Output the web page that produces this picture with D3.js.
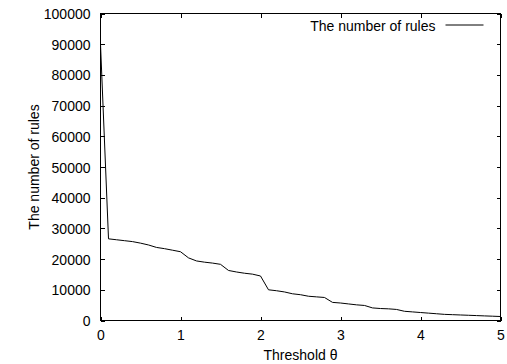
<!DOCTYPE html>
<meta charset="utf-8">
<style>
	body {
		margin: 0;
		background: #fff;
	}
	svg {
		font: 14px "Liberation Sans", Arial, sans-serif;
	}
	.axis path,
	.axis line {
		fill: none;
		stroke: #000;
		shape-rendering: crispEdges;
	}
	.axis .domain {
		display: none;
	}
	.rules {
		fill: none;
		stroke: #000;
		stroke-width: 1;
	}
</style>
<body>
<script src="https://d3js.org/d3.v7.min.js"></script>
<script>
	// threshold theta, 0 .. 5 in steps of 0.1
	var thresholds = [0, 0.1, 0.2, 0.3, 0.4, 0.5, 0.6, 0.7, 0.8, 0.9,
		1.0, 1.1, 1.2, 1.3, 1.4, 1.5, 1.6, 1.7, 1.8, 1.9,
		2.0, 2.1, 2.2, 2.3, 2.4, 2.5, 2.6, 2.7, 2.8, 2.9,
		3.0, 3.1, 3.2, 3.3, 3.4, 3.5, 3.6, 3.7, 3.8, 3.9,
		4.0, 4.1, 4.2, 4.3, 4.4, 4.5, 4.6, 4.7, 4.8, 4.9, 5.0];

	var numRules = [90000, 26600, 26300, 26000, 25700, 25200, 24600, 23800, 23400, 22900,
		22400, 20400, 19400, 19000, 18700, 18300, 16300, 15800, 15400, 15100,
		14500, 10000, 9700, 9300, 8700, 8400, 7900, 7700, 7500, 5900,
		5700, 5400, 5100, 4900, 4100, 3900, 3800, 3600, 3000, 2800,
		2600, 2400, 2200, 2000, 1900, 1800, 1700, 1600, 1500, 1400, 1300];

	var xTicks = [0, 1, 2, 3, 4, 5];
	var yTicks = [0, 10000, 20000, 30000, 40000, 50000, 60000, 70000, 80000, 90000, 100000];

	var seriesName = "The number of rules";

	var margin = {top: 13.5, right: 6.5, bottom: 43.5, left: 100.5},
		width = 507 - margin.left - margin.right,
		height = 364 - margin.top - margin.bottom;

	var x = d3.scaleLinear().domain([0, 5]).range([0, width]);
	var y = d3.scaleLinear().domain([0, 100000]).range([height, 0]);

	var svg = d3.select("body").append("svg")
		.attr("width", 507)
		.attr("height", 364)
		.append("g")
		.attr("transform", "translate(" + margin.left + "," + margin.top + ")");

	// gnuplot style: ticks inside, mirrored on the opposite side
	svg.append("g")
		.attr("class", "x axis")
		.attr("transform", "translate(0," + height + ")")
		.call(d3.axisBottom(x).tickValues(xTicks).tickSizeInner(-4).tickPadding(10).tickFormat(d3.format("d")));

	svg.append("g")
		.attr("class", "x axis")
		.call(d3.axisTop(x).tickValues(xTicks).tickSizeInner(-4).tickFormat(""));

	svg.append("g")
		.attr("class", "y axis")
		.call(d3.axisLeft(y).tickValues(yTicks).tickSizeInner(-4).tickPadding(10).tickFormat(d3.format("d")));

	svg.append("g")
		.attr("class", "y axis")
		.attr("transform", "translate(" + width + ",0)")
		.call(d3.axisRight(y).tickValues(yTicks).tickSizeInner(-4).tickFormat(""));

	svg.selectAll(".axis text")
		.attr("fill", "#000")
		.style("font-size", "14px")
		.style("font-family", "'Liberation Sans', Arial, sans-serif");

	svg.selectAll(".y.axis text").attr("dy", "0.36em");

	// frame
	svg.append("rect")
		.attr("width", width)
		.attr("height", height)
		.attr("fill", "none")
		.attr("stroke", "#000")
		.attr("shape-rendering", "crispEdges");

	var line = d3.line()
		.x(function(d, i) { return x(thresholds[i]); })
		.y(function(d) { return y(d); });

	svg.append("path")
		.datum(numRules)
		.attr("class", "rules")
		.attr("d", line);

	// legend
	svg.append("text")
		.attr("x", 335)
		.attr("y", 17)
		.attr("text-anchor", "end")
		.text(seriesName);

	svg.append("line")
		.attr("x1", 345)
		.attr("x2", 383)
		.attr("y1", 11.5)
		.attr("y2", 11.5)
		.attr("stroke", "#000");

	// axis labels
	svg.append("text")
		.attr("x", width / 2)
		.attr("y", height + 39.5)
		.attr("text-anchor", "middle")
		.text("Threshold θ");

	svg.append("text")
		.attr("transform", "rotate(-90)")
		.attr("x", -height / 2)
		.attr("y", -62)
		.attr("text-anchor", "middle")
		.text("The number of rules");
</script>
